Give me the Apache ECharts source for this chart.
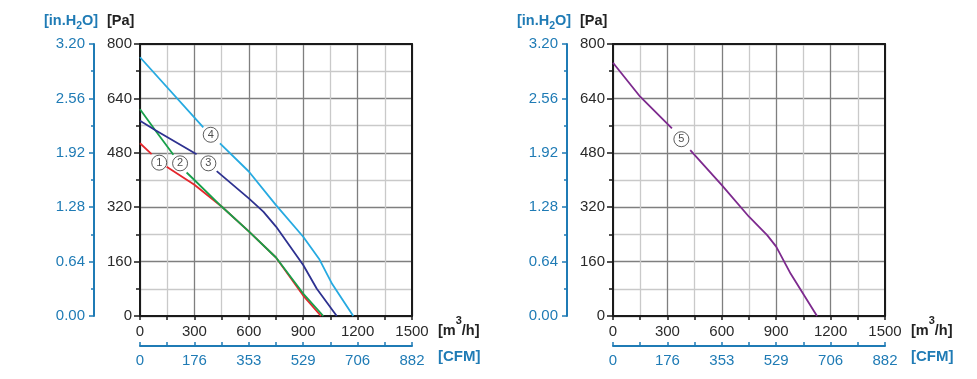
<!DOCTYPE html>
<html><head><meta charset="utf-8">
<script src="https://cdn.jsdelivr.net/npm/echarts@6/dist/echarts.min.js"></script>
<style>html,body{margin:0;padding:0;background:#fff}#c{width:977px;height:379px}</style>
</head><body><div id="c"></div>
<script>
// gap marker: '-' breaks the line where a curve number sits on it
const GAP = '-';
// [m3/h, Pa]
const curve1 = [[0,508],[64,476],[105,GAP],[147,439],[300,386],[450,322],[600,249],[750,172],[900,60],[998,0]];
const curve2 = [[0,608],[83,547],[184,474],[220,GAP],[257,422],[300,400],[450,322],[600,249],[750,172],[900,66],[1011,0]];
const curve3 = [[0,574],[83,547],[312,476],[370,GAP],[423,426],[600,346],[680,307],[750,263],[900,150],[975,80],[1085,0]];
const curve4 = [[0,761],[349,555],[395,GAP],[441,508],[600,425],[750,326],[900,233],[990,166],[1060,94],[1176,0]];
const curve5 = [[0,745],[150,645],[325,552],[375,GAP],[426,488],[600,385],[750,292],[850,238],[900,204],[980,124],[1125,0]];
// curve number markers [m3/h, Pa, text]
const markersLeft = [[106,451,'1'],[221,449,'2'],[377,449,'3'],[390,533,'4']];
const markersRight = [[377,520,'5']];
// axis ranges
const flowMax = 1500, flowStep = 300;
const cfmMax = 882, cfmStep = 176.4;
const paMax = 800, paStep = 160;
const inMax = 3.2, inStep = 0.64;

const BLUE = '#1f7bb5';
const BLACK = '#1a1a1a';
const FONT = '"Liberation Sans", Arial, sans-serif';
const COLORS = {c1:'#e5262c', c2:'#17a04a', c3:'#2d3190', c4:'#26aae1', c5:'#7d2a8e'};

const grids = [
  {left:140, top:44, width:272, height:272},
  {left:613, top:44, width:272, height:272}
];

const xAxis = [], yAxis = [];
grids.forEach((g, i) => {
  xAxis.push({
    gridIndex:i, type:'value', min:0, max:flowMax, interval:flowStep,
    axisLine:{show:true, onZero:false, lineStyle:{color:BLACK, width:2}},
    axisTick:{show:true, length:4, lineStyle:{color:BLACK, width:1.5}},
    minorTick:{show:true, splitNumber:2, length:4, lineStyle:{color:BLACK, width:1.5}},
    axisLabel:{color:'#2a2a2a', fontSize:15, margin:8, fontFamily:FONT, formatter:v => String(v)},
    splitLine:{show:true, lineStyle:{color:'#7f7f7f', width:1.3}},
    minorSplitLine:{show:true, lineStyle:{color:'#c9c9c9', width:1.3}}
  });
  xAxis.push({
    gridIndex:i, type:'value', position:'bottom', offset:30, min:0, max:cfmMax, interval:cfmStep,
    axisLine:{show:true, onZero:false, lineStyle:{color:BLUE, width:2}},
    axisTick:{show:true, inside:true, length:4, lineStyle:{color:BLUE, width:1.5}},
    minorTick:{show:true, splitNumber:2, length:4, lineStyle:{color:BLUE, width:1.5}},
    axisLabel:{color:BLUE, fontSize:15, margin:7, fontFamily:FONT, formatter:v => String(Math.round(v))},
    splitLine:{show:false}
  });
  xAxis.push({
    gridIndex:i, type:'value', position:'top', min:0, max:flowMax,
    axisLine:{show:true, onZero:false, lineStyle:{color:BLACK, width:2}},
    axisTick:{show:false}, axisLabel:{show:false}, splitLine:{show:false}
  });
  yAxis.push({
    gridIndex:i, type:'value', min:0, max:paMax, interval:paStep,
    axisLine:{show:true, onZero:false, lineStyle:{color:BLACK, width:2}},
    axisTick:{show:true, length:6, lineStyle:{color:BLACK, width:1.5}},
    minorTick:{show:true, splitNumber:2, length:4, lineStyle:{color:BLACK, width:1.5}},
    axisLabel:{color:'#2a2a2a', fontSize:15, margin:8, fontFamily:FONT},
    splitLine:{show:true, lineStyle:{color:'#7f7f7f', width:1.3}},
    minorSplitLine:{show:true, lineStyle:{color:'#c9c9c9', width:1.3}}
  });
  yAxis.push({
    gridIndex:i, type:'value', position:'left', offset:46, min:0, max:inMax, interval:inStep,
    axisLine:{show:true, onZero:false, lineStyle:{color:BLUE, width:2}},
    axisTick:{show:true, length:5, lineStyle:{color:BLUE, width:1.5}},
    minorTick:{show:true, splitNumber:2, length:3, lineStyle:{color:BLUE, width:1.5}},
    axisLabel:{color:BLUE, fontSize:15, margin:9, fontFamily:FONT, formatter:v => v.toFixed(2)},
    splitLine:{show:false}
  });
  yAxis.push({
    gridIndex:i, type:'value', position:'right', min:0, max:paMax,
    axisLine:{show:true, onZero:false, lineStyle:{color:BLACK, width:2}},
    axisTick:{show:false}, axisLabel:{show:false}, splitLine:{show:false}
  });
});

function lineSeries(data, color, gi) {
  return {type:'line', xAxisIndex:gi*3, yAxisIndex:gi*3, data:data, showSymbol:false,
    connectNulls:false, silent:true, z:5, lineStyle:{color:color, width:1.8}, itemStyle:{color:color}};
}
function markerSeries(data, gi) {
  return {type:'scatter', xAxisIndex:gi*3, yAxisIndex:gi*3, data:data, symbol:'circle', symbolSize:15,
    silent:true, z:10,
    itemStyle:{color:'#fff', borderColor:'#333', borderWidth:1},
    label:{show:true, position:'inside', formatter:p => p.data[2], color:'#222', fontSize:11, fontFamily:FONT}};
}

function nameTexts(x0, xName) {
  return [
    {type:'text', x:x0, y:21, style:{text:'{b|[in.H}{sub|2}{b|O]}', verticalAlign:'middle',
      rich:{b:{fontSize:14.5, fontWeight:'bold', fontFamily:FONT, fill:BLUE, lineHeight:20},
            sub:{fontSize:10.5, fontWeight:'bold', fontFamily:FONT, fill:BLUE, lineHeight:10, padding:[10,0,0,0]}}}},
    {type:'text', x:x0+63, y:21, style:{text:'[Pa]', verticalAlign:'middle', fontSize:14.5, fontWeight:'bold', fontFamily:FONT, fill:'#222'}},
    {type:'text', x:xName, y:331, style:{text:'{b|[m}{sup|3}{b|/h]}', verticalAlign:'middle',
      rich:{b:{fontSize:14.5, fontWeight:'bold', fontFamily:FONT, fill:'#222', lineHeight:30},
            sup:{fontSize:11, fontWeight:'bold', fontFamily:FONT, fill:'#222', lineHeight:10, padding:[0,0,20,0]}}}},
    {type:'text', x:xName, y:357, style:{text:'[CFM]', verticalAlign:'middle', fontSize:15, fontWeight:'bold', fontFamily:FONT, fill:BLUE}}
  ];
}

const chart = echarts.init(document.getElementById('c'), null, {renderer:'canvas'});
chart.setOption({
  animation:false,
  backgroundColor:'#fff',
  textStyle:{fontFamily:FONT},
  grid: grids,
  xAxis: xAxis,
  yAxis: yAxis,
  series: [
    lineSeries(curve1, COLORS.c1, 0),
    lineSeries(curve2, COLORS.c2, 0),
    lineSeries(curve3, COLORS.c3, 0),
    lineSeries(curve4, COLORS.c4, 0),
    markerSeries(markersLeft, 0),
    lineSeries(curve5, COLORS.c5, 1),
    markerSeries(markersRight, 1)
  ],
  graphic: nameTexts(44, 438).concat(nameTexts(517, 911))
});
</script></body></html>
